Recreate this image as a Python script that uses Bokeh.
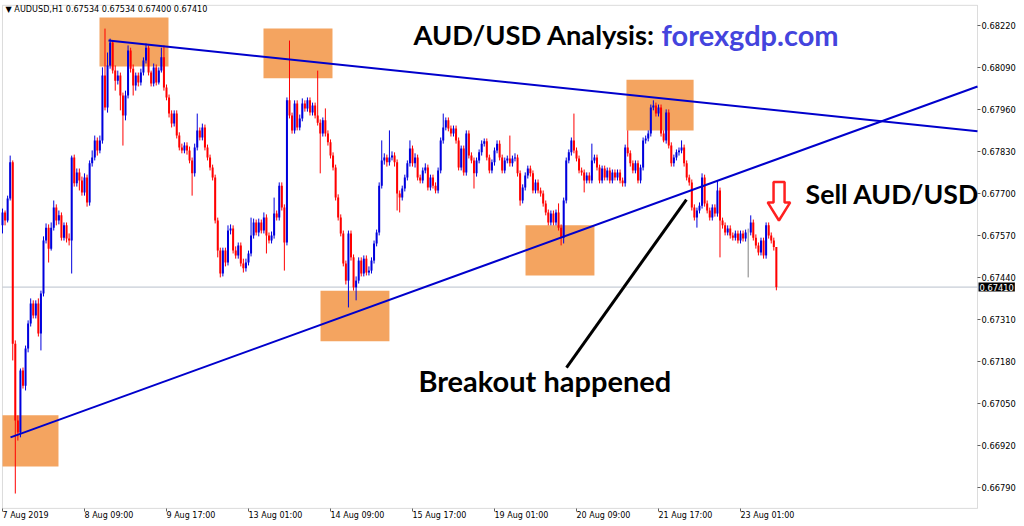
from bokeh.plotting import figure
from bokeh.models import (Range1d, FixedTicker, PrintfTickFormatter, BoxAnnotation,
                          Label, ColumnDataSource)
from bokeh.embed import file_html
from bokeh.resources import INLINE

# ---------------- data (AUDUSD, H1) ----------------
open0 = 0.67601
closes = [
    0.67641, 0.67616, 0.67684, 0.67796, 0.67235, 0.66997, 0.66960, 0.67152, 0.67105, 0.67220,
    0.67297, 0.67359, 0.67322, 0.67359, 0.67266, 0.67390, 0.67554, 0.67594, 0.67529, 0.67594,
    0.67656, 0.67616, 0.67632, 0.67563, 0.67601, 0.67560, 0.67554, 0.67811, 0.67731, 0.67765,
    0.67740, 0.67703, 0.67749, 0.67672, 0.67793, 0.67811, 0.67864, 0.67833, 0.67864, 0.68065,
    0.67966, 0.68096, 0.68167, 0.68080, 0.68049, 0.68065, 0.68003, 0.67941, 0.68003, 0.68142,
    0.68086, 0.68034, 0.68065, 0.68043, 0.68074, 0.68111, 0.68151, 0.68074, 0.68040, 0.68090,
    0.68043, 0.68080, 0.68121, 0.68028, 0.67997, 0.67947, 0.67916, 0.67947, 0.67879, 0.67842,
    0.67833, 0.67848, 0.67833, 0.67802, 0.67762, 0.67842, 0.67895, 0.67873, 0.67904, 0.67842,
    0.67811, 0.67780, 0.67749, 0.67616, 0.67523, 0.67452, 0.67523, 0.67486, 0.67585, 0.67591,
    0.67523, 0.67508, 0.67539, 0.67483, 0.67468, 0.67486, 0.67514, 0.67570, 0.67610, 0.67579,
    0.67610, 0.67585, 0.67625, 0.67570, 0.67554, 0.67570, 0.67638, 0.67625, 0.67724, 0.67656,
    0.67548, 0.67988, 0.67941, 0.67895, 0.67978, 0.67904, 0.67932, 0.67978, 0.67963, 0.67988,
    0.67950, 0.67972, 0.67941, 0.67919, 0.67885, 0.67926, 0.67885, 0.67858, 0.67817, 0.67780,
    0.67687, 0.67625, 0.67576, 0.67483, 0.67430, 0.67576, 0.67502, 0.67409, 0.67430, 0.67492,
    0.67452, 0.67498, 0.67455, 0.67461, 0.67492, 0.67545, 0.67579, 0.67724, 0.67802, 0.67811,
    0.67796, 0.67811, 0.67817, 0.67796, 0.67700, 0.67687, 0.67715, 0.67749, 0.67793, 0.67839,
    0.67793, 0.67811, 0.67749, 0.67740, 0.67771, 0.67780, 0.67718, 0.67749, 0.67724, 0.67709,
    0.67771, 0.67864, 0.67904, 0.67926, 0.67901, 0.67885, 0.67901, 0.67864, 0.67780, 0.67839,
    0.67765, 0.67885, 0.67817, 0.67802, 0.67762, 0.67802, 0.67827, 0.67854, 0.67861, 0.67811,
    0.67771, 0.67796, 0.67833, 0.67854, 0.67811, 0.67771, 0.67802, 0.67808, 0.67793, 0.67808,
    0.67811, 0.67762, 0.67678, 0.67718, 0.67755, 0.67777, 0.67762, 0.67709, 0.67734, 0.67709,
    0.67700, 0.67669, 0.67641, 0.67610, 0.67638, 0.67610, 0.67641, 0.67594, 0.67563, 0.67678,
    0.67802, 0.67827, 0.67864, 0.67833, 0.67808, 0.67771, 0.67765, 0.67740, 0.67755, 0.67740,
    0.67802, 0.67811, 0.67780, 0.67740, 0.67777, 0.67749, 0.67771, 0.67740, 0.67765, 0.67749,
    0.67765, 0.67740, 0.67731, 0.67842, 0.67824, 0.67793, 0.67771, 0.67793, 0.67740, 0.67780,
    0.67864, 0.67870, 0.67885, 0.67966, 0.67972, 0.67947, 0.67966, 0.67885, 0.67864, 0.67950,
    0.67848, 0.67793, 0.67811, 0.67827, 0.67833, 0.67842, 0.67793, 0.67749, 0.67734, 0.67656,
    0.67625, 0.67647, 0.67662, 0.67749, 0.67669, 0.67647, 0.67625, 0.67656, 0.67638, 0.67709,
    0.67616, 0.67601, 0.67579, 0.67591, 0.67570, 0.67563, 0.67576, 0.67554, 0.67576, 0.67560,
    0.67579, 0.67579, 0.67610, 0.67563, 0.67539, 0.67517, 0.67554, 0.67508, 0.67601, 0.67570,
    0.67554, 0.67534, 0.67410,
]
highs = [
    0.67653, 0.67647, 0.67693, 0.67817, 0.67802, 0.67245, 0.67013, 0.67158, 0.67161, 0.67229,
    0.67307, 0.67375, 0.67369, 0.67369, 0.67375, 0.67399, 0.67567, 0.67607, 0.67604, 0.67610,
    0.67678, 0.67666, 0.67647, 0.67641, 0.67610, 0.67610, 0.67576, 0.67817, 0.67820, 0.67777,
    0.67777, 0.67752, 0.67762, 0.67758, 0.67802, 0.67833, 0.67879, 0.67873, 0.67879, 0.68090,
    0.68210, 0.68136, 0.68179, 0.68173, 0.68096, 0.68080, 0.68074, 0.68012, 0.68018, 0.68158,
    0.68151, 0.68099, 0.68074, 0.68074, 0.68086, 0.68121, 0.68164, 0.68158, 0.68080, 0.68102,
    0.68099, 0.68090, 0.68151, 0.68158, 0.68037, 0.68006, 0.67957, 0.67957, 0.67957, 0.67889,
    0.67854, 0.67858, 0.67858, 0.67845, 0.67811, 0.67854, 0.67947, 0.67904, 0.67916, 0.67913,
    0.67851, 0.67820, 0.67789, 0.67758, 0.67625, 0.67532, 0.67532, 0.67532, 0.67601, 0.67604,
    0.67601, 0.67536, 0.67548, 0.67548, 0.67498, 0.67498, 0.67523, 0.67625, 0.67622, 0.67619,
    0.67622, 0.67619, 0.67641, 0.67635, 0.67579, 0.67582, 0.67687, 0.67647, 0.67734, 0.67734,
    0.67666, 0.67997, 0.68173, 0.67950, 0.67988, 0.67988, 0.67944, 0.67994, 0.67988, 0.67997,
    0.67997, 0.67981, 0.67981, 0.68080, 0.67929, 0.67935, 0.67963, 0.67895, 0.67867, 0.67827,
    0.67789, 0.67697, 0.67635, 0.67585, 0.67492, 0.67585, 0.67585, 0.67511, 0.67443, 0.67502,
    0.67502, 0.67508, 0.67508, 0.67474, 0.67502, 0.67554, 0.67588, 0.67734, 0.67864, 0.67824,
    0.67820, 0.67895, 0.67830, 0.67827, 0.67805, 0.67709, 0.67724, 0.67758, 0.67802, 0.67864,
    0.67848, 0.67824, 0.67820, 0.67758, 0.67780, 0.67793, 0.67789, 0.67758, 0.67758, 0.67734,
    0.67780, 0.67873, 0.67947, 0.67935, 0.67935, 0.67910, 0.67910, 0.67910, 0.67873, 0.67848,
    0.67848, 0.67895, 0.67895, 0.67827, 0.67811, 0.67811, 0.67836, 0.67864, 0.67870, 0.67870,
    0.67820, 0.67805, 0.67842, 0.67864, 0.67864, 0.67820, 0.67811, 0.67817, 0.67879, 0.67817,
    0.67824, 0.67820, 0.67771, 0.67728, 0.67765, 0.67786, 0.67786, 0.67771, 0.67743, 0.67743,
    0.67718, 0.67709, 0.67678, 0.67650, 0.67647, 0.67647, 0.67650, 0.67669, 0.67604, 0.67687,
    0.67811, 0.67836, 0.67873, 0.67947, 0.67842, 0.67817, 0.67780, 0.67774, 0.67765, 0.67765,
    0.67854, 0.67820, 0.67820, 0.67789, 0.67786, 0.67786, 0.67780, 0.67780, 0.67774, 0.67774,
    0.67774, 0.67774, 0.67749, 0.67851, 0.67895, 0.67833, 0.67802, 0.67802, 0.67802, 0.67789,
    0.67873, 0.67879, 0.67895, 0.67975, 0.67988, 0.67981, 0.67975, 0.67975, 0.67895, 0.67960,
    0.67960, 0.67858, 0.67820, 0.67836, 0.67842, 0.67864, 0.67851, 0.67802, 0.67758, 0.67743,
    0.67666, 0.67656, 0.67672, 0.67762, 0.67758, 0.67678, 0.67656, 0.67666, 0.67666, 0.67740,
    0.67718, 0.67625, 0.67610, 0.67601, 0.67601, 0.67579, 0.67585, 0.67585, 0.67585, 0.67585,
    0.67588, 0.67591, 0.67632, 0.67619, 0.67573, 0.67548, 0.67563, 0.67563, 0.67610, 0.67610,
    0.67579, 0.67563, 0.67534,
]
lows = [
    0.67576, 0.67601, 0.67610, 0.67678, 0.67183, 0.66771, 0.66935, 0.66945, 0.67096, 0.67090,
    0.67208, 0.67288, 0.67313, 0.67313, 0.67257, 0.67214, 0.67381, 0.67545, 0.67486, 0.67523,
    0.67585, 0.67601, 0.67604, 0.67554, 0.67554, 0.67548, 0.67539, 0.67452, 0.67721, 0.67721,
    0.67709, 0.67693, 0.67693, 0.67659, 0.67662, 0.67783, 0.67802, 0.67817, 0.67824, 0.67854,
    0.67957, 0.67950, 0.68086, 0.68071, 0.68018, 0.68037, 0.67957, 0.67848, 0.67926, 0.67994,
    0.68074, 0.68003, 0.68018, 0.68031, 0.68034, 0.68065, 0.68102, 0.68065, 0.68031, 0.68031,
    0.68034, 0.68037, 0.68074, 0.68018, 0.67988, 0.67935, 0.67904, 0.67907, 0.67870, 0.67833,
    0.67824, 0.67824, 0.67820, 0.67793, 0.67693, 0.67752, 0.67833, 0.67864, 0.67864, 0.67833,
    0.67802, 0.67771, 0.67740, 0.67607, 0.67502, 0.67440, 0.67443, 0.67474, 0.67477, 0.67573,
    0.67514, 0.67498, 0.67498, 0.67474, 0.67455, 0.67458, 0.67477, 0.67505, 0.67560, 0.67570,
    0.67567, 0.67576, 0.67576, 0.67514, 0.67545, 0.67545, 0.67560, 0.67616, 0.67616, 0.67647,
    0.67461, 0.67539, 0.67932, 0.67885, 0.67885, 0.67895, 0.67895, 0.67923, 0.67953, 0.67953,
    0.67941, 0.67941, 0.67932, 0.67910, 0.67762, 0.67876, 0.67876, 0.67848, 0.67808, 0.67771,
    0.67678, 0.67616, 0.67567, 0.67474, 0.67418, 0.67347, 0.67492, 0.67399, 0.67369, 0.67421,
    0.67443, 0.67443, 0.67446, 0.67446, 0.67452, 0.67483, 0.67536, 0.67570, 0.67715, 0.67789,
    0.67783, 0.67786, 0.67802, 0.67783, 0.67647, 0.67641, 0.67678, 0.67706, 0.67740, 0.67783,
    0.67783, 0.67780, 0.67740, 0.67731, 0.67731, 0.67762, 0.67709, 0.67709, 0.67715, 0.67700,
    0.67700, 0.67762, 0.67854, 0.67895, 0.67892, 0.67876, 0.67876, 0.67854, 0.67771, 0.67771,
    0.67755, 0.67755, 0.67808, 0.67793, 0.67715, 0.67752, 0.67793, 0.67817, 0.67845, 0.67802,
    0.67762, 0.67762, 0.67786, 0.67824, 0.67802, 0.67762, 0.67762, 0.67793, 0.67783, 0.67783,
    0.67799, 0.67752, 0.67662, 0.67669, 0.67709, 0.67746, 0.67752, 0.67700, 0.67700, 0.67700,
    0.67690, 0.67659, 0.67632, 0.67601, 0.67601, 0.67601, 0.67601, 0.67585, 0.67539, 0.67545,
    0.67669, 0.67793, 0.67817, 0.67824, 0.67799, 0.67762, 0.67755, 0.67703, 0.67731, 0.67731,
    0.67731, 0.67793, 0.67771, 0.67731, 0.67731, 0.67740, 0.67740, 0.67731, 0.67731, 0.67740,
    0.67740, 0.67731, 0.67721, 0.67721, 0.67814, 0.67783, 0.67762, 0.67762, 0.67731, 0.67731,
    0.67771, 0.67854, 0.67861, 0.67876, 0.67957, 0.67938, 0.67938, 0.67876, 0.67858, 0.67854,
    0.67839, 0.67783, 0.67783, 0.67802, 0.67817, 0.67824, 0.67783, 0.67740, 0.67724, 0.67647,
    0.67616, 0.67594, 0.67638, 0.67653, 0.67659, 0.67638, 0.67616, 0.67616, 0.67628, 0.67628,
    0.67502, 0.67591, 0.67570, 0.67570, 0.67560, 0.67554, 0.67554, 0.67545, 0.67545, 0.67551,
    0.67551, 0.67440, 0.67570, 0.67554, 0.67529, 0.67508, 0.67508, 0.67498, 0.67498, 0.67560,
    0.67545, 0.67523, 0.67400,
]
price_ticks = [0.66790, 0.66920, 0.67050, 0.67180, 0.67310, 0.67440,
               0.67570, 0.67700, 0.67830, 0.67960, 0.68090, 0.68220]
time_labels = ["7 Aug 2019", "8 Aug 09:00", "9 Aug 17:00", "13 Aug 01:00", "14 Aug 09:00",
               "15 Aug 17:00", "19 Aug 01:00", "20 Aug 09:00", "21 Aug 17:00", "23 Aug 01:00"]
bars_per_label = 32

# ---------------- derived ----------------
n = len(closes)
opens = [open0] + closes[:-1]
xs = list(range(n))
hi = [max(h, o, c) for h, o, c in zip(highs, opens, closes)]
lo = [min(l, o, c) for l, o, c in zip(lows, opens, closes)]
UP, DN, DOJI = "#0000DD", "#FF0000", "#808080"
col = [UP if c > o else (DN if c < o else DOJI) for o, c in zip(opens, closes)]
top = [max(o, c) for o, c in zip(opens, closes)]
bot = [min(o, c) for o, c in zip(opens, closes)]
src = ColumnDataSource(dict(x=xs, hi=hi, lo=lo, top=top, bot=bot, col=col))

# chart window: time index / price
X0, X1 = -0.78, 398.83          # whole canvas width
Y0, Y1 = 0.66669, 0.68297       # whole canvas height
CHART_LEFT, CHART_RIGHT = 0.0, 380.49
PANE_TOP, PANE_BOTTOM = 0.68282, 0.66725

p = figure(width=1024, height=526,
           x_range=Range1d(X0, X1), y_range=Range1d(Y0, Y1),
           y_axis_location="right", toolbar_location=None, output_backend="svg",
           min_border_left=0, min_border_right=0, min_border_top=0, min_border_bottom=0,
           background_fill_color="white", border_fill_color="white")
p.grid.visible = False
p.outline_line_color = None

# right price axis, fixed at the pane's right edge
ya = p.yaxis[0]
ya.fixed_location = CHART_RIGHT
ya.ticker = FixedTicker(ticks=price_ticks)
ya.formatter = PrintfTickFormatter(format="%.5f")
ya.major_tick_in = 0
ya.major_tick_out = 3
ya.minor_tick_in = 0
ya.minor_tick_out = 0
ya.axis_line_color = None
ya.major_tick_line_color = "#606060"
ya.major_label_text_font = "DejaVu Sans"
ya.major_label_text_font_size = "8.3px"
ya.major_label_text_color = "black"
ya.major_label_standoff = 1

# bottom time axis, fixed at the pane's bottom edge (ticks; labels left-aligned like MT4)
tick_pos = [k * bars_per_label for k in range(len(time_labels))]
xa = p.xaxis[0]
xa.fixed_location = PANE_BOTTOM
xa.ticker = FixedTicker(ticks=tick_pos)
xa.major_label_overrides = {t: "" for t in tick_pos}
xa.major_label_text_font_size = "0px"
xa.major_tick_in = 0
xa.major_tick_out = 3
xa.minor_tick_in = 0
xa.minor_tick_out = 0
xa.axis_line_color = None
xa.major_tick_line_color = "#606060"
for t, lab in zip(tick_pos, time_labels):
    p.add_layout(Label(x=t, y=0.66716, text=lab, text_align="left",
                       text_baseline="top", text_font="DejaVu Sans",
                       text_font_size="8px", text_color="black"))

# pane border
p.add_layout(BoxAnnotation(left=CHART_LEFT, right=CHART_RIGHT, top=PANE_TOP, bottom=PANE_BOTTOM,
                           fill_alpha=0, line_color="#8C8C8C", line_width=1, level="underlay"))

# orange zones (time index, price)
zones = [(37.85, 64.78, 0.68244, 0.68093), (101.85, 128.78, 0.68210, 0.68056),
         (124.1, 151.0, 0.67399, 0.67242), (204.1, 231.0, 0.67601, 0.67446),
         (243.5, 269.7, 0.68052, 0.67895), (CHART_LEFT, 21.85, 0.67013, 0.66855)]
for l, r, t, b in zones:
    p.add_layout(BoxAnnotation(left=l, right=r, top=t, bottom=b, fill_color="#F4A460",
                               fill_alpha=1.0, line_alpha=0, level="underlay"))

# bid line
p.segment(x0=[CHART_LEFT], y0=[closes[-1]], x1=[CHART_RIGHT], y1=[closes[-1]],
          line_color="#B8C0CC", line_width=1)

# candles
p.segment(x0="x", y0="hi", x1="x", y1="lo", line_color="col", line_width=1, source=src)
p.vbar(x="x", width=0.78, top="top", bottom="bot", fill_color="col", line_color=None,
       source=src)

# trend lines
trend_upper = ([41.37, CHART_RIGHT], [0.68173, 0.67892])
trend_lower = ([3.12, CHART_RIGHT], [0.66945, 0.68031])
p.line(trend_upper[0], trend_upper[1], line_color="#0000CC", line_width=2)
p.line(trend_lower[0], trend_lower[1], line_color="#0000CC", line_width=2)
pointer = ([220.1, 266.9], [0.67161, 0.67681])
p.line(pointer[0], pointer[1], line_color="black", line_width=3)

# hollow red arrow
arrow_x = [300.9, 305.2, 305.2, 307.4, 303.0, 298.6, 300.9]
arrow_y = [0.67735, 0.67735, 0.67672, 0.67672, 0.67616, 0.67672, 0.67672]
p.patch(arrow_x, arrow_y, fill_color="white", line_color="#FF2020", line_width=2.5)

# texts
bold = dict(text_font="Lato", text_font_style="bold", text_baseline="alphabetic")
p.add_layout(Label(x=160.4, y=0.68193, text="AUD/USD Analysis:", text_color="black",
                   text_font_size="27.3px", **bold))
p.add_layout(Label(x=257.2, y=0.68193, text="forexgdp.com", text_color="#4444DD",
                   text_font_size="29px", **bold))
p.add_layout(Label(x=313.4, y=0.67697, text="Sell AUD/USD", text_color="black",
                   text_font_size="26.7px", **bold))
p.add_layout(Label(x=162.3, y=0.67122, text="Breakout happened", text_color="black",
                   text_font_size="29px", **bold))

header = "\u25BC AUDUSD,H1  %.5f %.5f %.5f %.5f" % (opens[-1], hi[-1], lo[-1], closes[-1])
p.add_layout(Label(x=1.2, y=0.68271, text=header, text_font="DejaVu Sans",
                   text_font_size="8.1px", text_color="black", text_baseline="alphabetic"))

# current price tag on the axis
p.add_layout(Label(x=CHART_RIGHT + 0.4, y=closes[-1], text="%.5f" % closes[-1],
                   text_font="DejaVu Sans", text_font_size="8.3px", text_color="white",
                   text_align="left", text_baseline="middle",
                   background_fill_color="black", padding=1))

open("out.html", "w").write(file_html(p, INLINE))
